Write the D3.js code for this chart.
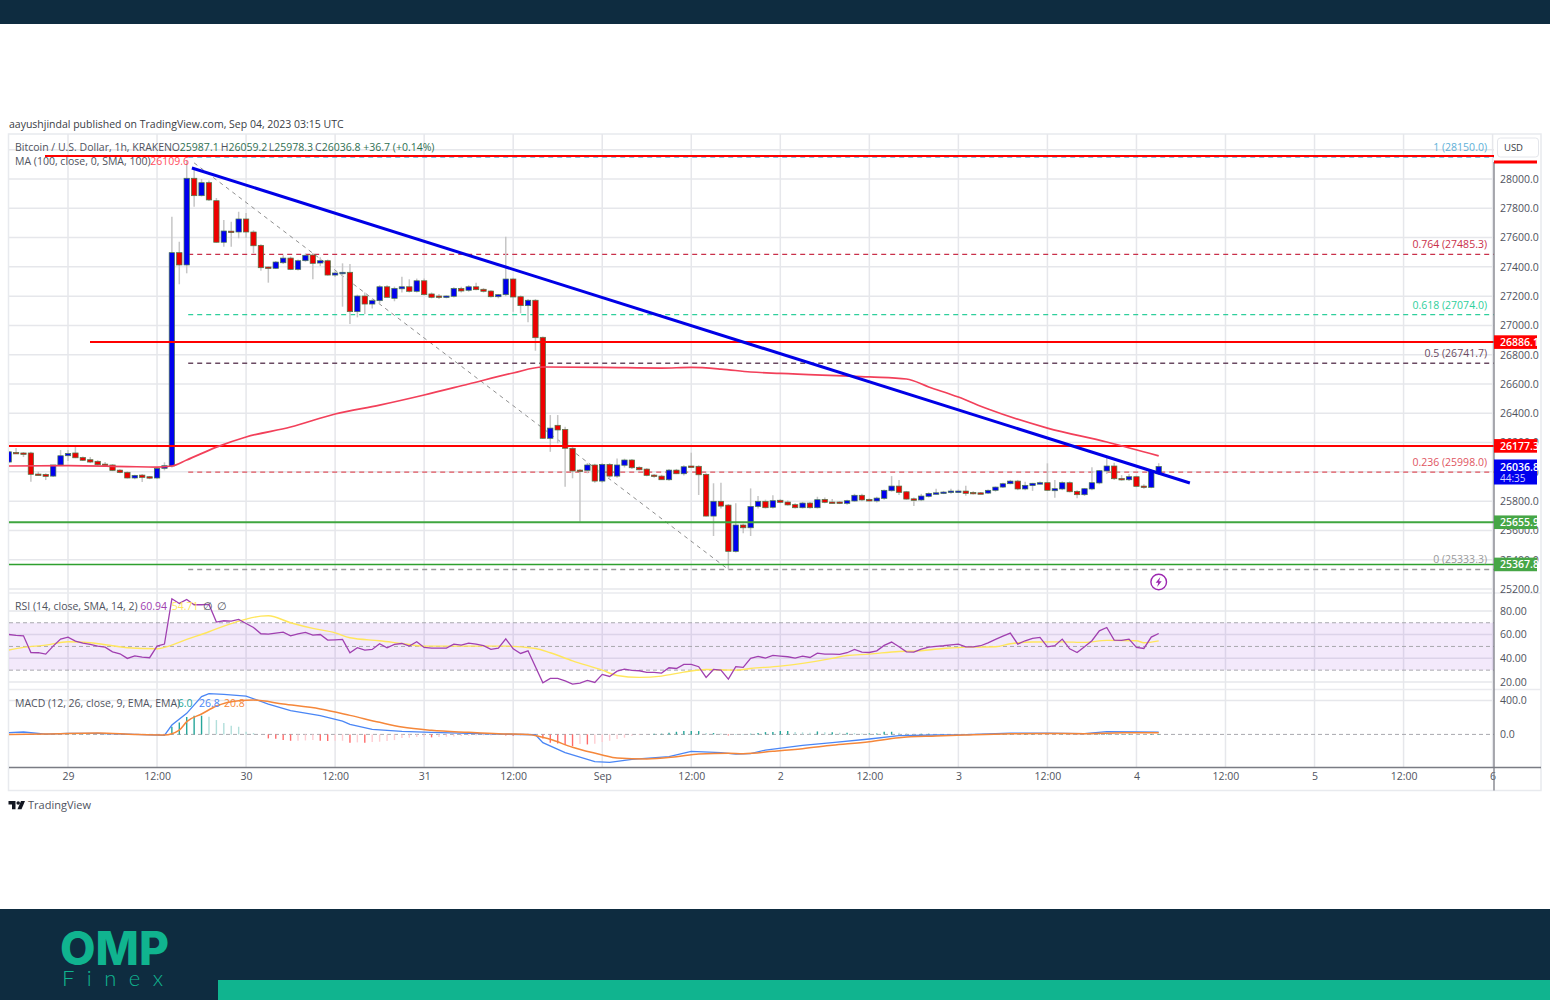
<!DOCTYPE html>
<html>
<head>
<meta charset="utf-8">
<title>BTC/USD 1h</title>
<script src="https://cdnjs.cloudflare.com/ajax/libs/d3/7.8.5/d3.min.js"></script>
<style>
  html, body { margin: 0; padding: 0; background: #fff; }
  svg { display: block; font-family: "Open Sans", sans-serif; }
</style>
</head>
<body>
<svg id="chart" width="1550" height="1000"></svg>
<script>
// candles run hourly, first one is Aug 28 16:00 (hour -8 from Aug 29 00:00)
const firstHour = -8;
const opens = [
  26067,26133,26129,26129,25985,25983,25971,26047,26110,26129,26098,26083,26072,26053,26047,26012,25997,25958,25978,25967,25958,26024,
  26040,27497,27413,28005,27886,27975,27852,27568,27644,27638,27727,27638,27547,27399,27390,27428,27460,27383,27442,27481,27426,27442,27344,27356,
  27363,27094,27201,27146,27169,27264,27185,27250,27264,27233,27305,27215,27201,27196,27199,27253,27240,27264,27247,27235,27196,27210,27317,27196,27135,27172,
  26919,26229,26318,26290,26161,26012,26010,26047,25937,26051,25971,26045,26081,26031,26019,25978,25971,25946,26012,25987,26040,26038,25983,25698,25799,25773,25457,25637,25618,25764,
  25799,25758,25806,25794,25776,25755,25787,25755,25812,25794,25794,25785,25801,25840,25812,25801,25819,25871,25903,25864,25816,25808,25833,25851,25855,25860,25864,25869,25860,25857,
  25855,25874,25896,25919,25937,25883,25906,25919,25926,25871,25883,25926,25867,25844,25883,25924,26006,26040,25955,25946,25967,25903,25894,25987.1
];
const highs = [
  26142,26163,26135,26137,26001,25990,26047,26149,26149,26183,26105,26101,26080,26067,26053,26018,26003,25980,25985,25972,26030,26065,
  27743,27572,28130,28075,28000,27990,27870,27720,27708,27777,27768,27650,27555,27402,27440,27480,27470,27450,27490,27495,27465,27450,27370,27424,
  27419,27210,27225,27180,27275,27275,27265,27333,27315,27320,27320,27225,27215,27205,27260,27265,27275,27292,27255,27240,27215,27606,27325,27205,27180,27180,
  26925,26388,26388,26308,26170,26020,26060,26055,26060,26060,26092,26090,26088,26038,26025,25985,25980,26020,26020,26045,26131,26045,25990,25922,25926,25780,25785,25645,25887,25835,
  25810,25840,25815,25805,25785,25795,25795,25830,25825,25815,25800,25810,25850,25850,25820,25830,25880,25971,25944,25870,25825,25850,25860,25885,25870,25885,25880,25905,25868,25862,
  25880,25900,25925,25945,25945,25932,25925,25935,26058,25944,25935,25935,25875,25890,26031,26012,26094,26062,25978,25985,25975,25915,26015,26059.2
];
const lows = [
  26060,26122,26101,25932,25976,25944,25965,26040,26074,26094,26074,26060,26042,26033,26005,25990,25955,25950,25930,25950,25952,26010,
  26030,27281,27356,27811,27880,27850,27565,27538,27538,27595,27597,27493,27374,27292,27385,27420,27378,27375,27435,27315,27405,27340,27330,27128,
  27010,27055,27078,27115,27150,27190,27165,27225,27225,27225,27205,27185,27180,27185,27190,27225,27230,27240,27225,27190,27185,27200,27094,27083,27021,26827,
  26225,26137,26195,25898,25956,25659,25990,25925,25925,25960,25960,26030,26020,26010,25970,25960,25945,25940,25985,25975,26030,25842,25695,25562,25750,25334,25450,25580,25562,25750,
  25750,25750,25785,25770,25750,25750,25750,25750,25785,25785,25780,25775,25795,25800,25795,25790,25810,25865,25842,25810,25767,25800,25825,25845,25848,25850,25855,25837,25845,25848,
  25848,25865,25890,25915,25875,25875,25870,25915,25870,25823,25875,25860,25819,25835,25875,25915,25985,25945,25940,25938,25895,25885,25888,25978.3
];
const closes = [
  26137,26126,26122,25983,25979,25969,26047,26110,26126,26096,26079,26067,26049,26044,26010,25995,25958,25976,25962,25958,26024,26042,
  27497,27413,28005,27886,27975,27857,27568,27645,27638,27727,27638,27544,27394,27392,27433,27460,27383,27442,27479,27424,27442,27344,27358,27363,
  27094,27201,27146,27169,27264,27192,27253,27264,27233,27305,27210,27192,27194,27201,27253,27235,27264,27244,27233,27196,27210,27317,27194,27135,27172,26916,
  26229,26299,26286,26161,26006,26006,26047,25937,26051,25971,26047,26081,26028,26014,25976,25969,25946,26012,25987,26035,26033,25980,25698,25799,25766,25457,25637,25618,25764,25799,
  25755,25803,25792,25774,25755,25787,25755,25810,25792,25790,25785,25803,25840,25808,25801,25821,25874,25903,25860,25814,25805,25835,25853,25857,25862,25869,25869,25853,25853,25855,
  25874,25896,25919,25937,25883,25908,25922,25926,25874,25885,25926,25864,25844,25885,25926,26008,26040,25953,25946,25967,25901,25894,26007,26036.8
];

// simple moving average, read at a few hours along the line
const maHours = [-8,0,8,12,14,16,20,24,30,36,42,48,54,60,64,72,80,84,88,92,96,108,113,116,120,124,132,140,147];
const maValues = [26040,26043,26036,26033,26040,26081,26169,26238,26306,26395,26456,26525,26600,26675,26716,26714,26709,26713,26702,26682,26672,26648,26634,26580,26511,26429,26299,26204,26109.6];

const priceTicks = [25200,25400,25600,25800,26000,26200,26400,26600,26800,27000,27200,27400,27600,27800,28000];
const timeTickHours = [0,12,24,36,48,60,72,84,96,108,120,132,144,156,168,180,192];
const timeTickLabels = ["29","12:00","30","12:00","31","12:00","Sep","12:00","2","12:00","3","12:00","4","12:00","5","12:00","6"];

const fibLevels = ["1","0.764","0.618","0.5","0.236","0"];
const fibPrices = [28150.0,27485.3,27074.0,26741.7,25998.0,25333.3];
const fibColors = ["#5eb0d8","#c9304a","#2fcf9c","#6a4a62","#e0555f","#9a9a9a"];

const linePrices = [28157,26886.1,26177.3,25655.9,25367.8];
const lineColors = ["#ff0000","#ff0000","#ff0000","#3fa63f","#2ea02e"];
const lineStarts = [-3,3,-8,-8,-8];

const rsiValues = [
  60.1,59.3,59.0,44.9,44.7,43.5,50.3,56.2,57.9,54.5,52.8,51.7,50.3,49.4,45.5,43.8,39.9,42.1,41.0,40.5,50.3,52.0,
  90.2,86.3,89.7,85.2,85.2,85.5,70.6,71.7,71.4,72.8,69.4,66.0,60.7,60.4,61.3,62.1,59.0,60.7,61.8,59.6,60.1,55.4,55.6,55.9,
  44.7,48.9,46.9,47.5,52.3,48.9,51.7,52.5,50.3,54.0,49.2,48.6,48.6,48.6,52.0,51.1,52.8,52.0,50.6,47.5,48.6,56.5,48.0,44.1,46.3,32.9,
  19.3,23.0,23.0,21.0,18.2,19.1,21.3,19.6,26.4,24.7,29.2,30.9,29.8,29.5,28.1,28.1,27.5,32.0,31.4,34.8,34.8,32.9,23.9,30.6,30.0,22.4,32.9,32.3,39.9,41.6,
  40.2,42.4,41.9,41.3,40.2,41.9,40.7,44.4,43.5,43.5,43.3,44.7,47.5,45.2,44.9,46.3,50.9,53.7,49.7,45.5,45.2,47.8,49.4,50.0,50.6,51.4,52.0,49.7,49.7,50.6,
  53.1,55.9,58.7,61.3,52.0,54.8,56.8,57.6,49.7,50.6,56.2,48.0,44.9,49.7,54.8,63.2,66.0,55.4,55.1,56.2,49.2,48.3,57.9,60.94
];
const rsiMaHours = [-8,-6,-3,0,3,6,8,12,13,16,19,21,24,26,27,30,33,36,38,42,45,48,52,56,59,63,65,68,72,74,77,80,83,86,90,92,96,99,103,105,108,112,114,118,121,125,127,130,134,137,140,144,145,147];
const rsiMaValues = [46.9,49.2,51.1,54.0,53.1,50.6,48.9,48.0,49.2,55.9,62.4,67.2,73.1,75.6,75.9,70.0,65.2,61.5,57.3,54.8,52.5,50.3,50.3,50.3,50.3,48.3,44.7,37.9,30.0,25.5,23.9,25.0,28.3,30.6,30.0,31.4,33.4,35.7,39.9,42.4,43.5,45.8,46.0,48.3,49.4,49.7,52.3,53.7,53.9,53.4,55.1,54.8,53.1,54.71];
const rsiTicks = [20,40,60,80];

const macdHours = [-8,-6,-3,0,4,9,13,14,16,18,19,21,24,27,30,34,37,38,41,45,49,54,58,63,64,67,71,73,76,81,84,88,90,92,94,99,103,108,112,117,121,127,132,137,140,144,147];
const macdValues = [20,28,4,12,12,0,-11,110,248,444,479,471,451,357,279,220,157,118,59,36,24,12,4,-4,-97,-215,-321,-329,-293,-262,-199,-215,-231,-227,-184,-129,-97,-54,-15,-7,-3,16,16,8,32,28,26.8];
const signalHours = [-8,-3,4,9,13,15,16,18,20,23,25,29,34,38,42,45,49,54,58,62,65,68,72,74,78,82,85,89,91,95,99,103,108,112,117,121,127,132,137,141,144,147];
const signalValues = [0,4,16,0,-7,51,150,240,334,397,404,357,299,224,142,87,48,24,8,0,-58,-152,-242,-278,-289,-262,-231,-223,-227,-199,-168,-129,-86,-39,-19,-7,8,12,8,16,20,20.8];
const histValues = [
  4,3,2,2,1,0,-1,0,2,2,2,1,1,1,0,-1,-1,-2,-3,-2,-3,-2,
  90,141,204,220,220,208,169,133,102,90,31,16,0,
  -47,-51,-67,-75,-75,-71,-67,-75,-78,-75,-75,-98,-94,-98,-90,-86,-78,-67,
  -43,-39,-31,-27,-35,-31,-27,-24,-20,-16,-12,-12,-12,-8,-12,-16,-12,-8,-2,
  -47,-98,-106,-125,-137,-114,-118,-110,-90,-75,-55,-39,-16,-8,-4,
  8,8,20,31,39,39,39,16,16,12,-12,2,2,8,16,27,27,39,39,27,24,20,35,24,24,20,20,16,12,12,12,31,31,20,12,8,8,8,4,4,
  3,3,2,2,3,4,6,8,8,4,4,4,3,-2,-3,2,-4,-6,-2,3,8,12,6,6,7,4,3,6,6.0
];
const macdTicks = [0,400];

const plotLeft = 9, plotRight = 1494, frameRight = 1541;
const mainTop = 134, mainBottom = 593, rsiBottom = 689.5, macdBottom = 767.5, frameBottom = 790.5;

const svg = d3.select('#chart');

const x = d3.scaleLinear().domain([0, 192]).range([68, 1492.6]);
const y = d3.scaleLinear().domain([25200, 28000]).range([589, 179]);
const yRsi = d3.scaleLinear().domain([20, 80]).range([682, 610.9]);
const yMacd = d3.scaleLinear().domain([0, 400]).range([734.4, 700.4]);

// page banner bits
svg.append('rect').attr('width', 1550).attr('height', 24).attr('fill', '#0e2c40');
svg.append('rect').attr('y', 909).attr('width', 1550).attr('height', 91).attr('fill', '#0e2c40');
svg.append('rect').attr('x', 218).attr('y', 980).attr('width', 1332).attr('height', 20).attr('fill', '#10b48f');
svg.append('text').attr('x', 60).attr('y', 965).attr('font-family', 'Inter').attr('font-weight', 800)
  .attr('font-size', 46).attr('fill', '#10b48f').text('OMP');
svg.append('text').attr('x', 62).attr('y', 986).attr('font-family', 'Lato').attr('font-weight', 300)
  .attr('font-size', 22).attr('letter-spacing', 12.5).attr('fill', '#10b48f').text('Finex');

const label = (sel, px, py, str, color, size, anchor) => sel.append('text')
  .attr('x', px).attr('y', py).attr('fill', color).attr('font-size', size || 10.5)
  .attr('text-anchor', anchor || 'start').text(str);

label(svg, 9, 127.5, 'aayushjindal published on TradingView.com, Sep 04, 2023 03:15 UTC', '#3a3d45');

// frame
svg.append('rect').attr('x', 8.5).attr('y', mainTop).attr('width', frameRight - 8.5).attr('height', frameBottom - mainTop)
  .attr('fill', 'none').attr('stroke', '#e8eaee').attr('stroke-width', 1.5);

// grid
const grid = svg.append('g').attr('stroke', '#e6e7eb').attr('stroke-width', 1.5);
[...priceTicks, 28200].forEach(p => {
  grid.append('line').attr('x1', plotLeft).attr('x2', plotRight).attr('y1', y(p)).attr('y2', y(p));
});
rsiTicks.forEach(v => {
  grid.append('line').attr('x1', plotLeft).attr('x2', plotRight).attr('y1', yRsi(v)).attr('y2', yRsi(v));
});
grid.append('line').attr('x1', plotLeft).attr('x2', plotRight).attr('y1', yMacd(400)).attr('y2', yMacd(400));
timeTickHours.forEach(h => {
  grid.append('line').attr('x1', x(h)).attr('x2', x(h)).attr('y1', mainTop).attr('y2', macdBottom);
});

// rsi band
svg.append('rect').attr('x', plotLeft).attr('y', yRsi(70)).attr('width', plotRight - plotLeft)
  .attr('height', yRsi(30) - yRsi(70)).attr('fill', '#8e24d8').attr('fill-opacity', 0.1);
[70, 50, 30].forEach(v => {
  svg.append('line').attr('x1', plotLeft).attr('x2', plotRight).attr('y1', yRsi(v)).attr('y2', yRsi(v))
    .attr('stroke', '#a8a8ae').attr('stroke-width', 1).attr('stroke-dasharray', '4,3');
});
svg.append('line').attr('x1', plotLeft).attr('x2', plotRight).attr('y1', yMacd(0)).attr('y2', yMacd(0))
  .attr('stroke', '#a8a8ae').attr('stroke-width', 1).attr('stroke-dasharray', '4,3');

// pane separators
[mainBottom, rsiBottom].forEach(py => {
  svg.append('line').attr('x1', plotLeft).attr('x2', frameRight).attr('y1', py).attr('y2', py)
    .attr('stroke', '#eaebef').attr('stroke-width', 1.5);
});

svg.append('clipPath').attr('id', 'plot-clip').append('rect')
  .attr('x', plotLeft).attr('y', mainTop).attr('width', plotRight - plotLeft).attr('height', macdBottom - mainTop);
const plot = svg.append('g').attr('clip-path', 'url(#plot-clip)');

// fib retracement levels
const fibStart = x(16.2);
fibLevels.forEach((lv, i) => {
  plot.append('line').attr('x1', fibStart).attr('x2', plotRight).attr('y1', y(fibPrices[i])).attr('y2', y(fibPrices[i]))
    .attr('stroke', fibColors[i]).attr('stroke-width', 1.3).attr('stroke-dasharray', '5,4');
});
plot.append('line').attr('x1', x(17)).attr('y1', y(28110)).attr('x2', x(89)).attr('y2', y(25333.3))
  .attr('stroke', '#8f8f8f').attr('stroke-width', 1).attr('stroke-dasharray', '4,4');

// candles
const candles = plot.append('g');
closes.forEach((c, i) => {
  const h = firstHour + i;
  const o = opens[i];
  const top = y(Math.max(o, c));
  const bodyH = Math.max(y(Math.min(o, c)) - top, 1.5);
  candles.append('line').attr('x1', x(h)).attr('x2', x(h)).attr('y1', y(highs[i])).attr('y2', y(lows[i]))
    .attr('stroke', '#c6c6c6').attr('stroke-width', 1.5);
  candles.append('rect').attr('x', x(h) - 2.7).attr('width', 5.4).attr('y', top).attr('height', bodyH)
    .attr('fill', c >= o ? '#0000ee' : '#ee0000').attr('stroke', '#4c7a4c').attr('stroke-width', 0.7);
});

// horizontal levels
linePrices.forEach((p, i) => {
  plot.append('line').attr('x1', i === 0 ? 45 : i === 1 ? 90 : plotLeft).attr('x2', plotRight).attr('y1', y(p)).attr('y2', y(p))
    .attr('stroke', lineColors[i]).attr('stroke-width', i === 4 ? 1.6 : 2);
});

// ma
const maLine = d3.line().x((d, i) => x(maHours[i])).y(d => y(d)).curve(d3.curveMonotoneX);
plot.append('path').attr('d', maLine(maValues)).attr('fill', 'none').attr('stroke', '#f2405a').attr('stroke-width', 1.7);

// trend line
plot.append('line').attr('x1', x(16.7)).attr('y1', y(28075)).attr('x2', x(151.2)).attr('y2', y(25924))
  .attr('stroke', '#0000e6').attr('stroke-width', 3);

// rsi
const rsiLine = d3.line().x((d, i) => x(firstHour + i)).y(d => yRsi(d));
const rsiMaLine = d3.line().x((d, i) => x(rsiMaHours[i])).y(d => yRsi(d)).curve(d3.curveMonotoneX);
plot.append('path').attr('d', rsiMaLine(rsiMaValues)).attr('fill', 'none').attr('stroke', '#ffe65c').attr('stroke-width', 1.4);
plot.append('path').attr('d', rsiLine(rsiValues)).attr('fill', 'none').attr('stroke', '#a040b0').attr('stroke-width', 1.3);

// macd
histValues.forEach((v, i) => {
  const prev = i ? histValues[i - 1] : 0;
  const color = v >= 0 ? (v >= prev ? '#26a69a' : '#b2dfdb') : (v < prev ? '#ff6b6b' : '#ffcdd2');
  plot.append('line').attr('x1', x(firstHour + i)).attr('x2', x(firstHour + i))
    .attr('y1', yMacd(0)).attr('y2', yMacd(v)).attr('stroke', color).attr('stroke-width', 1.4);
});
const macdLine = d3.line().x((d, i) => x(macdHours[i])).y(d => yMacd(d));
const signalLine = d3.line().x((d, i) => x(signalHours[i])).y(d => yMacd(d)).curve(d3.curveMonotoneX);
plot.append('path').attr('d', macdLine(macdValues)).attr('fill', 'none').attr('stroke', '#4a86f5').attr('stroke-width', 1.3);
plot.append('path').attr('d', signalLine(signalValues)).attr('fill', 'none').attr('stroke', '#f5873a').attr('stroke-width', 1.5);

// fib labels
fibLevels.forEach((lv, i) => {
  label(svg, 1487, y(fibPrices[i]) - 6, `${lv} (${fibPrices[i].toFixed(1)})`, fibColors[i], 10.5, 'end');
});

// legends
const legend = label(svg, 15, 150.5, 'Bitcoin / U.S. Dollar, 1h, KRAKEN', '#50535e');
const ohlcLegend = [['O', '25987.1', 171.7], ['H', '26059.2', 220.7], ['L', '25978.3', 268.7], ['C', '26036.8', 315]];
ohlcLegend.forEach(d => {
  const t = label(svg, d[2], 150.5, d[0], '#50535e');
  t.append('tspan').attr('fill', '#2f6f52').text(d[1]);
});
label(svg, 363.3, 150.5, '+36.7 (+0.14%)', '#2f6f52');
label(svg, 15, 165, 'MA (100, close, 0, SMA, 100)', '#50535e');
label(svg, 150.3, 165, '26109.6', '#ff4d5e');
label(svg, 15, 609.5, 'RSI (14, close, SMA, 14, 2)', '#50535e');
label(svg, 140.3, 609.5, '60.94', '#a040b0');
label(svg, 171.7, 609.5, '54.71', '#ffe65c');
label(svg, 203, 609.5, '∅', '#50535e');
label(svg, 216.7, 609.5, '∅', '#50535e');
label(svg, 15, 706.5, 'MACD (12, 26, close, 9, EMA, EMA)', '#50535e');
label(svg, 177.7, 706.5, '6.0', '#26a69a');
label(svg, 199, 706.5, '26.8', '#4a86f5');
label(svg, 224, 706.5, '20.8', '#f5873a');

// axes
const axisLabels = g => {
  g.select('.domain').remove();
  g.selectAll('.tick line').remove();
  g.selectAll('.tick text').attr('fill', '#50535e').attr('font-size', 10.5).attr('font-family', '"Open Sans", sans-serif');
};
svg.append('g').attr('transform', `translate(${plotRight},0)`)
  .call(d3.axisRight(y).tickValues(priceTicks).tickSize(0).tickPadding(6).tickFormat(d3.format('.1f'))).call(axisLabels);
svg.append('g').attr('transform', `translate(${plotRight},0)`)
  .call(d3.axisRight(yRsi).tickValues(rsiTicks).tickSize(0).tickPadding(6).tickFormat(d3.format('.2f'))).call(axisLabels);
svg.append('g').attr('transform', `translate(${plotRight},0)`)
  .call(d3.axisRight(yMacd).tickValues(macdTicks).tickSize(0).tickPadding(6).tickFormat(d3.format('.1f'))).call(axisLabels);
svg.append('g').attr('transform', `translate(0,${macdBottom + 5})`)
  .call(d3.axisBottom(x).tickValues(timeTickHours).tickSize(0).tickPadding(0).tickFormat((d, i) => timeTickLabels[i])).call(axisLabels);

// axis lines
svg.append('line').attr('x1', plotRight).attr('x2', plotRight).attr('y1', 162).attr('y2', frameBottom)
  .attr('stroke', '#7a7c84').attr('stroke-width', 1.3);
svg.append('line').attr('x1', plotLeft).attr('x2', frameRight).attr('y1', macdBottom).attr('y2', macdBottom)
  .attr('stroke', '#7a7c84').attr('stroke-width', 1.3);

// USD box
svg.append('rect').attr('x', 1497.5).attr('y', 138).attr('width', 41).attr('height', 19).attr('rx', 3)
  .attr('fill', '#fff').attr('stroke', '#e4e6eb');
label(svg, 1513.5, 151, 'USD', '#3a3d45', 9.5, 'middle');

// price tags
svg.append('rect').attr('x', 1494).attr('y', 160.5).attr('width', 43).attr('height', 3).attr('fill', '#ff0000');
const priceTag = (p, color, textP) => {
  const cy = y(p);
  svg.append('rect').attr('x', 1494).attr('y', cy - 6.8).attr('width', 43).attr('height', 13.6).attr('fill', color);
  svg.append('text').attr('x', 1500).attr('y', cy + 3.7).attr('fill', '#fff').attr('font-size', 10.5)
    .attr('font-weight', 600).text(textP);
};
priceTag(26886.1, '#ff0000', '26886.1');
priceTag(26177.3, '#ff0000', '26177.3');
priceTag(25655.9, '#46a646', '25655.9');
priceTag(25367.8, '#46a646', '25367.8');
svg.append('rect').attr('x', 1494).attr('y', 459.5).attr('width', 43).attr('height', 25).attr('fill', '#0000ee');
svg.append('text').attr('x', 1500).attr('y', 470.5).attr('fill', '#fff').attr('font-size', 10.5).attr('font-weight', 600).text('26036.8');
svg.append('text').attr('x', 1500).attr('y', 481.5).attr('fill', '#d5d5ff').attr('font-size', 10).text('44:35');

// news marker
const bolt = svg.append('g').attr('transform', `translate(${x(147)},582)`);
bolt.append('circle').attr('r', 7.8).attr('fill', '#fff').attr('stroke', '#9c27b0').attr('stroke-width', 1.4);
bolt.append('path').attr('d', 'M1.6 -5 L-3 0.8 L-0.4 0.8 L-1.6 5 L3 -0.8 L0.4 -0.8 Z').attr('fill', '#9c27b0');

// tradingview mark
const mark = svg.append('g').attr('fill', '#131722');
mark.append('path').attr('d', 'M8.5 801 H15.5 V809.2 H12 V804.5 H8.5 Z');
mark.append('circle').attr('cx', 18.2).attr('cy', 803).attr('r', 1.8);
mark.append('path').attr('d', 'M21 801 H25 L21.5 809.2 H17.5 Z');
label(svg, 28, 809, 'TradingView', '#50535e', 11);
</script>
</body>
</html>
